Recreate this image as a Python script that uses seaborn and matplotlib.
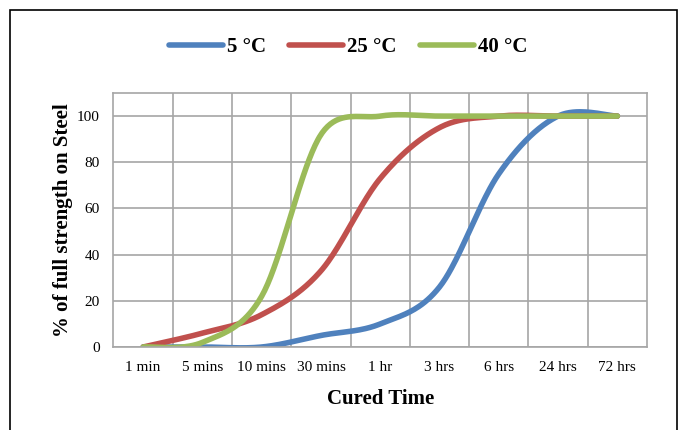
import numpy as np
import pandas as pd
import seaborn as sns
import matplotlib.pyplot as plt
from matplotlib.patches import Rectangle
from matplotlib.ticker import FixedLocator

# ----------------------------
# Data
# ----------------------------
cure_times = ["1 min", "5 mins", "10 mins", "30 mins", "1 hr", "3 hrs", "6 hrs", "24 hrs", "72 hrs"]
strength_5c = [0, 0, 0, 5, 10, 26, 75, 100, 100]
strength_25c = [0, 6, 14, 33, 73, 95, 100, 100, 100]
strength_40c = [0, 2, 22, 92, 100, 100, 100, 100, 100]
series_names = ["5 °C", "25 °C", "40 °C"]
colors = ["#4F81BD", "#C0504D", "#9BBB59"]

# axes box in pixels (fig is 679x430 at dpi 100)
ax_left, ax_right, ax_top, ax_bottom = 113.5, 647, 93, 347
y_max = 110


def excel_smooth(vals, sx, sy, n=40):
    # Excel "smoothed line": bezier segments, control arms limited to half the segment
    P = np.column_stack([np.arange(len(vals)) * sx, np.asarray(vals, float) * sy])
    xs, ys = [], []
    last = len(P) - 1
    for i in range(last):
        p0, p1, p2, p3 = P[max(i - 1, 0)], P[i], P[i + 1], P[min(i + 2, last)]
        d12 = np.hypot(*(p2 - p1))
        d02 = np.hypot(*(p2 - p0))
        d13 = np.hypot(*(p3 - p1))
        f1 = 1 / 6 if d02 / 6 < d12 / 2 else d12 / (2 * d02)
        f2 = 1 / 6 if d13 / 6 < d12 / 2 else d12 / (2 * d13)
        c1 = p1 + f1 * (p2 - p0)
        c2 = p2 - f2 * (p3 - p1)
        t = np.linspace(0, 1, n, endpoint=(i == last - 1))[:, None]
        b = (1 - t)**3 * p1 + 3 * (1 - t)**2 * t * c1 + 3 * (1 - t) * t**2 * c2 + t**3 * p2
        xs.append(b[:, 0] / sx)
        ys.append(b[:, 1] / sy)
    return np.concatenate(xs), np.concatenate(ys)


px_per_cat = (ax_right - ax_left) / len(cure_times)
px_per_unit = (ax_bottom - ax_top) / y_max

frames = []
for name, vals in zip(series_names, [strength_5c, strength_25c, strength_40c]):
    sx, sy = excel_smooth(vals, px_per_cat, px_per_unit)
    frames.append(pd.DataFrame({"x": sx, "y": sy, "series": name}))
df = pd.concat(frames, ignore_index=True)

# ----------------------------
# Plot
# ----------------------------
sns.set_theme(style="white")
plt.rcParams["font.family"] = ["Liberation Serif", "DejaVu Serif"]
plt.rcParams["text.color"] = "black"
plt.rcParams["axes.labelcolor"] = "black"
plt.rcParams["xtick.color"] = "black"
plt.rcParams["ytick.color"] = "black"

fig = plt.figure(figsize=(6.79, 4.30), dpi=100)
ax = fig.add_axes([ax_left / 679, 1 - ax_bottom / 430, (ax_right - ax_left) / 679, (ax_bottom - ax_top) / 430])

sns.lineplot(data=df, x="x", y="y", hue="series", palette=colors, hue_order=series_names,
             estimator=None, sort=False, linewidth=4, ax=ax, legend=False)
for line in ax.get_lines():
    line.set_solid_capstyle("round")

ax.set_xlim(-0.5, len(cure_times) - 0.5)
ax.set_ylim(0, y_max)
ax.set_xticks(range(len(cure_times)))
ax.set_xticklabels(cure_times, fontsize=11)
ax.set_yticks(range(0, 101, 20))
ax.tick_params(axis="y", labelsize=11, length=0, pad=10)
ax.tick_params(axis="x", length=0, pad=10)
ax.xaxis.set_minor_locator(FixedLocator(np.arange(0.5, len(cure_times) - 1, 1)))

grid_color = "#A6A6A6"
ax.grid(True, axis="y", which="major", color=grid_color, linewidth=1.2)
ax.grid(True, axis="x", which="minor", color=grid_color, linewidth=1.2)
ax.grid(False, axis="x", which="major")
for s in ax.spines.values():
    s.set_color(grid_color)
    s.set_linewidth(1.2)

ax.set_xlabel("Cured Time", fontsize=15, fontweight="bold", labelpad=11)
ax.set_ylabel("% of full strength on Steel", fontsize=15, fontweight="bold", labelpad=3)

handles = [plt.Line2D([], [], color=c, linewidth=4, solid_capstyle="round") for c in colors]
fig.legend(handles, series_names, loc="center", bbox_to_anchor=(348 / 679, 1 - 47 / 430), ncol=3,
           frameon=False, prop={"size": 15, "weight": "bold"}, handlelength=2.6,
           handletextpad=0.2, columnspacing=1.1)

# outer chart border
fig.add_artist(Rectangle((10 / 679, -0.02), 667 / 679, 1 - 10 / 430 + 0.02, transform=fig.transFigure,
                         fill=False, edgecolor="black", linewidth=1.2))

fig.savefig("out.png", dpi=100)
